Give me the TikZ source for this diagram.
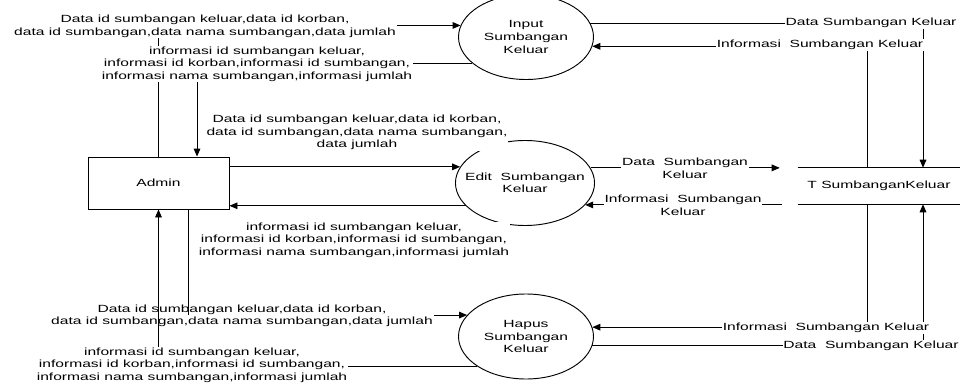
\documentclass[tikz,border=0pt]{standalone}
\usepackage{fontspec}
\newfontfamily\dfdfont[FakeStretch=1.5]{Liberation Sans}
\usetikzlibrary{arrows.meta,shapes.geometric}
\tikzset{
  dfd/.style={font=\dfdfont\fontsize{7.8}{9.4}\selectfont},
  process/.style={dfd,ellipse,draw,line width=0.7pt,minimum width=101.25pt,minimum height=63.75pt,inner ysep=0pt,inner xsep=-8pt,align=center},
  entity/.style={dfd,rectangle,draw,line width=0.7pt,minimum width=105.75pt,minimum height=39pt},
  datastore/.style={dfd,rectangle,minimum width=121.5pt,minimum height=27pt,inner sep=0pt},
  flow/.style={line width=0.7pt,-{Triangle[length=6pt,width=5pt]}},
  flowlabel/.style={dfd,fill=white,inner sep=0.6pt,align=center}
}

\begin{document}
\begin{tikzpicture}[x=0.75pt,y=0.75pt,yscale=-1,xscale=1]
\useasboundingbox (0,0) rectangle (960,385);

%Shape: Rectangle
\node[entity] (admin) at (158.5,183) {Admin};
%Shape: Ellipse
\node[process] (input) at (526,37) {Input\\Sumbangan\\Keluar};
%Shape: Ellipse
\node[process] (edit) at (525,183) {Edit\ \ Sumbangan\\Keluar};
%Shape: Ellipse
\node[process] (hapus) at (526,336.5) {Hapus\\Sumbangan\\Keluar};
%Shape: Data store
\node[datastore] (store) at (879,186) {T SumbanganKeluar};
\draw[line width=0.7pt] (store.north west) -- (store.north east) (store.south west) -- (store.south east);

%Straight Lines: admin - input
\draw[flow] (admin.north) |- (input.170);
\draw[flow] (input.206) -| ([xshift=28.9pt]admin.north);
% Text Node
\node[flowlabel] (lblA) at (205,26.5) {Data id sumbangan keluar,data id korban,\\data id sumbangan,data nama sumbangan,data jumlah};
% Text Node
\node[flowlabel] (lblB) at (257,64) {informasi id sumbangan keluar,\\informasi id korban,informasi id sumbangan,\\informasi nama sumbangan,informasi jumlah};

%Straight Lines: admin - edit
\draw[flow] (admin.east |- edit.166) -- (edit.166);
\draw[flow] (edit.201) -- (admin.east |- edit.201);
% Text Node
\node[flowlabel] (lblC) at (357,132.5) {Data id sumbangan keluar,data id korban,\\data id sumbangan,data nama sumbangan,\\data jumlah};
% Text Node
\node[flowlabel] (lblD) at (354,240) {informasi id sumbangan keluar,\\informasi id korban,informasi id sumbangan,\\informasi nama sumbangan,informasi jumlah};

%Straight Lines: admin - hapus
\draw[flow] ([xshift=22.1pt]admin.south) |- (hapus.160);
% Text Node
\node[flowlabel] (lblE) at (242,316) {Data id sumbangan keluar,data id korban,\\data id sumbangan,data nama sumbangan,data jumlah};
\draw[line width=0.7pt] ([xshift=22.1pt]admin.south) -- ([xshift=22.1pt]admin.south |- hapus.160);
\draw[flow] (hapus.211) -| (admin.south);
% Text Node
\node[flowlabel] (lblF) at (192,365) {informasi id sumbangan keluar,\\informasi id korban,informasi id sumbangan,\\informasi nama sumbangan,informasi jumlah};

%Straight Lines: input - store
\draw[flow] (input.12) -| ([xshift=33pt]store.north);
\draw[flow] ([xshift=-9pt]store.north) |- (input.352);
% Text Node
\node[flowlabel] (lblG) at (871,23) {Data Sumbangan Keluar};
% Text Node
\node[flowlabel] (lblH) at (820,45) {Informasi\ \ Sumbangan Keluar};

%Straight Lines: edit - store
\draw[flow,shorten >=13.5pt] (edit.13) -- (edit.13 -| store.west);
\draw[flow,shorten <=12pt] (edit.340 -| store.west) -- (edit.340);
% Text Node
\node[flowlabel] (lblI) at (685,168.5) {Data\ \ Sumbangan\\Keluar};
% Text Node
\node[flowlabel] (lblJ) at (683,205.5) {Informasi\ \ Sumbangan\\Keluar};

%Straight Lines: hapus - store
\draw[flow] ([xshift=-9pt]store.south) |- (hapus.8);
\draw[flow] (hapus.352) -| ([xshift=33pt]store.south);
% Text Node
\node[flowlabel] (lblK) at (826,328) {Informasi\ \ Sumbangan Keluar};
% Text Node
\node[flowlabel] (lblL) at (871,346) {Data\ \ Sumbangan Keluar};

\end{tikzpicture}
\end{document}
